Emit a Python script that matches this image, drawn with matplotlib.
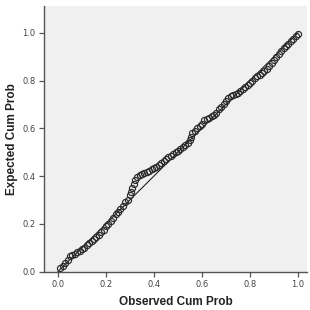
import matplotlib
matplotlib.use("Agg")
import matplotlib.pyplot as plt

# P-P plot values
observed = [0.01, 0.02, 0.03, 0.04, 0.05, 0.06, 0.07, 0.08, 0.09, 0.10,
            0.11, 0.12, 0.13, 0.14, 0.15, 0.16, 0.17, 0.18, 0.19, 0.20,
            0.21, 0.22, 0.23, 0.24, 0.25, 0.26, 0.27, 0.28, 0.29, 0.30,
            0.305, 0.31, 0.315, 0.32, 0.33, 0.34, 0.35, 0.36, 0.37, 0.38,
            0.39, 0.40, 0.41, 0.42, 0.43, 0.44, 0.45, 0.46, 0.47, 0.48,
            0.49, 0.50, 0.51, 0.52, 0.53, 0.54, 0.55, 0.555, 0.56, 0.57,
            0.58, 0.59, 0.60, 0.61, 0.62, 0.63, 0.64, 0.65, 0.66, 0.67,
            0.68, 0.69, 0.70, 0.71, 0.72, 0.73, 0.74, 0.75, 0.76, 0.77,
            0.78, 0.79, 0.80, 0.81, 0.82, 0.83, 0.84, 0.85, 0.86, 0.87,
            0.88, 0.89, 0.90, 0.91, 0.92, 0.93, 0.94, 0.95, 0.96, 0.97,
            0.98, 0.99, 1.00]
expected = [0.015, 0.025, 0.035, 0.05, 0.065, 0.07, 0.075, 0.08, 0.085, 0.095,
            0.10, 0.11, 0.12, 0.128, 0.135, 0.145, 0.155, 0.165, 0.175, 0.19,
            0.20, 0.21, 0.225, 0.24, 0.25, 0.262, 0.275, 0.29, 0.30, 0.32,
            0.335, 0.35, 0.365, 0.385, 0.398, 0.405, 0.408, 0.412, 0.415, 0.422,
            0.43, 0.435, 0.44, 0.448, 0.455, 0.462, 0.47, 0.478, 0.485, 0.492,
            0.50, 0.507, 0.515, 0.522, 0.53, 0.54, 0.55, 0.565, 0.58, 0.59,
            0.60, 0.61, 0.62, 0.635, 0.64, 0.645, 0.65, 0.655, 0.665, 0.68,
            0.69, 0.70, 0.715, 0.725, 0.735, 0.74, 0.745, 0.75, 0.755, 0.765,
            0.775, 0.782, 0.79, 0.80, 0.81, 0.818, 0.825, 0.832, 0.84, 0.85,
            0.86, 0.872, 0.885, 0.898, 0.91, 0.922, 0.935, 0.945, 0.955, 0.965,
            0.975, 0.985, 0.995]
ref_line = [0.0, 1.0]
ticks = [0.0, 0.2, 0.4, 0.6, 0.8, 1.0]

fig = plt.figure(figsize=(3.1, 3.1), dpi=100)
ax = fig.add_axes([0.142, 0.1226, 0.848, 0.8584])
ax.set_facecolor("#f0f0f0")

ax.plot(ref_line, ref_line, color="#222222", lw=0.8, zorder=2)
ax.plot(observed, expected, linestyle="none", marker="o", markersize=4.4,
        markerfacecolor="none", markeredgecolor="#2a2a2a", markeredgewidth=0.85, zorder=3)

ax.set_xlim(-0.058, 1.0375)
ax.set_ylim(-0.002, 1.113)
ax.set_xticks(ticks)
ax.set_yticks(ticks)
ax.set_xticklabels(["%.1f" % t for t in ticks])
ax.set_yticklabels(["%.1f" % t for t in ticks])
ax.tick_params(direction="out", length=3.5, width=0.9, color="#555555",
               labelsize=6, labelcolor="#444444", pad=2.5)

for s in ["top", "right"]:
    ax.spines[s].set_visible(False)
for s in ["left", "bottom"]:
    ax.spines[s].set_color("#555555")
    ax.spines[s].set_linewidth(1.0)

ax.set_xlabel("Observed Cum Prob", family="Liberation Sans", fontweight="bold",
              fontsize=8.5, color="#222222", labelpad=5)
ax.set_ylabel("Expected Cum Prob", family="Liberation Sans", fontweight="bold",
              fontsize=8.5, color="#222222", labelpad=3)

fig.savefig("out.png", dpi=100)
